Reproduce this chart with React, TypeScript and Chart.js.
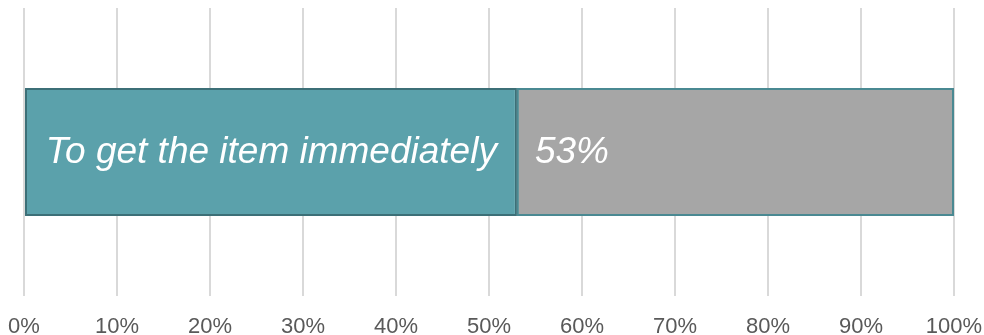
import React, { useEffect, useRef } from "react";
import { Chart, registerables } from "chart.js";

Chart.register(...registerables);

const categories = ["Reason"];
const seriesNames = ["To get the item immediately", "Other"];
const immediateValues = [53];
const otherValues = [47];
const segmentLabels = ["To get the item immediately", "53%"];
const xTicks = [0, 10, 20, 30, 40, 50, 60, 70, 80, 90, 100];

const segmentLabelPlugin = {
  id: "segmentLabels",
  afterDatasetsDraw(chart: any) {
    const ctx = chart.ctx;
    ctx.save();
    ctx.font = "italic 37px 'Liberation Sans', Arial, sans-serif";
    ctx.fillStyle = "#ffffff";
    ctx.textBaseline = "middle";
    chart.data.datasets.forEach((ds: any, i: number) => {
      const meta = chart.getDatasetMeta(i);
      meta.data.forEach((bar: any) => {
        const left = Math.min(bar.x, bar.base);
        const y = bar.y + 1;
        const text = segmentLabels[i];
        if (i === 0) {
          ctx.textAlign = "right";
          ctx.fillText(text, Math.max(bar.x, bar.base) - 20, y);
        } else {
          ctx.textAlign = "left";
          ctx.fillText(text, left + 18, y);
        }
      });
    });
    ctx.restore();
  },
};

export default function App() {
  const ref = useRef<HTMLCanvasElement | null>(null);
  useEffect(() => {
    document.body.style.margin = "0";
    const chart = new Chart(ref.current as HTMLCanvasElement, {
      type: "bar",
      data: {
        labels: categories,
        datasets: [
          {
            label: seriesNames[0],
            data: immediateValues,
            backgroundColor: "#5ba1ab",
            borderColor: "#3c6f77",
            borderWidth: 2,
            borderSkipped: false,
            barPercentage: 0.445,
            categoryPercentage: 1,
          },
          {
            label: seriesNames[1],
            data: otherValues,
            backgroundColor: "#a6a6a6",
            borderColor: "#4a8992",
            borderWidth: 2,
            borderSkipped: false,
            barPercentage: 0.445,
            categoryPercentage: 1,
          },
        ],
      },
      options: {
        indexAxis: "y",
        animation: false,
        responsive: false,
        layout: { padding: { left: 24, right: 30, top: 8, bottom: 0 } },
        plugins: { legend: { display: false }, tooltip: { enabled: false } },
        scales: {
          x: {
            stacked: true,
            min: xTicks[0],
            max: xTicks[xTicks.length - 1],
            afterBuildTicks: (axis: any) => {
              axis.ticks = xTicks.map((v) => ({ value: v }));
            },
            afterFit: (axis: any) => {
              axis.paddingLeft = 0;
              axis.paddingRight = 0;
              axis.height = 39;
            },
            grid: { color: "#d9d9d9", lineWidth: 2, drawTicks: false },
            border: { display: false },
            ticks: {
              padding: 18,
              color: "#595959",
              font: { size: 22, family: "'Liberation Sans', Arial, sans-serif" },
              callback: (v: any) => v + "%",
              maxRotation: 0,
              autoSkip: false,
            },
          },
          y: { stacked: true, display: false },
        },
      },
      plugins: [segmentLabelPlugin],
    });
    return () => chart.destroy();
  }, []);
  return (
    <div style={{ width: 984, height: 335 }}>
      <canvas ref={ref} width={984} height={335} style={{ display: "block" }} />
    </div>
  );
}
